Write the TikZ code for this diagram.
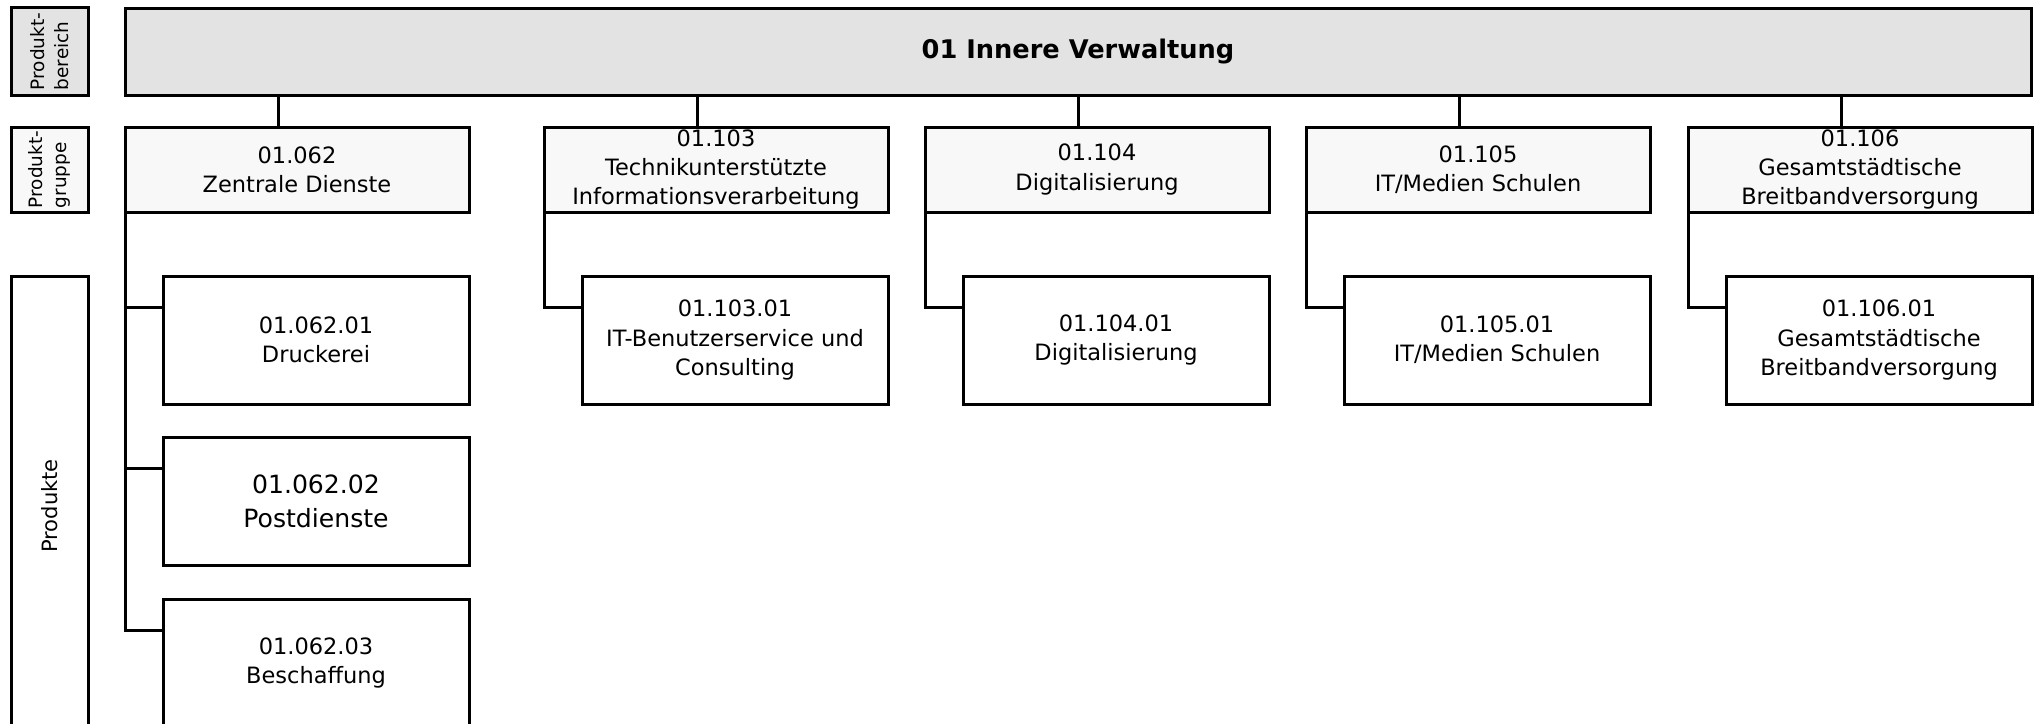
\documentclass[tikz,border=0pt]{standalone}
\usepackage{fontspec}
\setmainfont{DejaVu Sans}
\usepackage{xcolor}
\usepackage{tikz}
\usetikzlibrary{positioning}
\definecolor{areagray}{RGB}{227,227,227}
\definecolor{groupgray}{RGB}{248,248,248}
\tikzset{
  box/.style={draw, line width=0.06cm, inner sep=0pt, outer sep=0pt, align=center,
              font=\fontsize{12.8}{16.6}\selectfont},
  areabox/.style={box, fill=areagray, minimum width=38.12cm, minimum height=1.74cm,
              font=\fontsize{14.6}{18}\selectfont\bfseries},
  groupbox/.style={box, fill=groupgray, minimum width=6.88cm, minimum height=1.7cm},
  prodbox/.style={box, fill=white, minimum width=6.12cm, minimum height=2.56cm},
  sidebox/.style={draw, line width=0.06cm, inner sep=0pt, outer sep=0pt, rotate=90, align=left,
              minimum height=1.54cm, font=\fontsize{10.5}{13.5}\selectfont},
  conn/.style={line width=0.06cm},
}

\begin{document}
\begin{tikzpicture}
  \useasboundingbox (0,0) rectangle (40.7,-14.46);

  \node[sidebox, fill=areagray, minimum width=1.74cm] (lbereich) at (0.99,-1.03) {Produkt-\\bereich};
  \node[sidebox, fill=groupgray, minimum width=1.7cm] (lgruppe) at (0.99,-3.39) {Produkt-\\gruppe};
  \node[sidebox, minimum width=9.2cm, font=\fontsize{12}{14}\selectfont] (lprodukte) at (0.99,-10.12) {Produkte};

  \node[areabox, anchor=north west] (area) at (2.5,-0.16) {01 Innere Verwaltung};

  \node[groupbox, below right=0.64cm and 0cm of area.south west] (g062) {01.062\\Zentrale Dienste};
  \node[groupbox, right=1.5cm of g062] (g103) {01.103\\Technikunterstützte\\Informationsverarbeitung};
  \node[groupbox, right=0.74cm of g103] (g104) {01.104\\Digitalisierung};
  \node[groupbox, right=0.74cm of g104] (g105) {01.105\\IT/Medien Schulen};
  \node[groupbox, right=0.76cm of g105] (g106) {01.106\\Gesamtstädtische\\Breitbandversorgung};

  \node[prodbox, below right=1.28cm and 0.76cm of g062.south west] (p062a) {01.062.01\\Druckerei};
  \node[prodbox, below=0.66cm of p062a, font=\fontsize{14.3}{19.4}\selectfont] (p062b) {01.062.02\\Postdienste};
  \node[prodbox, below=0.68cm of p062b] (p062c) {01.062.03\\Beschaffung};
  \node[prodbox, below right=1.28cm and 0.76cm of g103.south west] (p103) {01.103.01\\IT-Benutzerservice und\\Consulting};
  \node[prodbox, below right=1.28cm and 0.76cm of g104.south west] (p104) {01.104.01\\Digitalisierung};
  \node[prodbox, below right=1.28cm and 0.76cm of g105.south west] (p105) {01.105.01\\IT/Medien Schulen};
  \node[prodbox, below right=1.28cm and 0.76cm of g106.south west] (p106) {01.106.01\\Gesamtstädtische\\Breitbandversorgung};

  \foreach \g in {g062,g103,g104,g105,g106}
    \draw[conn] ([xshift=-0.38cm]\g.north) -- ([xshift=-0.38cm]\g.north |- area.south);

  \draw[conn] (g062.south west) |- ([yshift=-0.63cm]p062a.north west);
  \draw[conn] (g062.south west) |- ([yshift=-0.63cm]p062b.north west);
  \draw[conn] (g062.south west) |- ([yshift=-0.63cm]p062c.north west);
  \draw[conn] (g103.south west) |- ([yshift=-0.63cm]p103.north west);
  \draw[conn] (g104.south west) |- ([yshift=-0.63cm]p104.north west);
  \draw[conn] (g105.south west) |- ([yshift=-0.63cm]p105.north west);
  \draw[conn] (g106.south west) |- ([yshift=-0.63cm]p106.north west);
\end{tikzpicture}
\end{document}
